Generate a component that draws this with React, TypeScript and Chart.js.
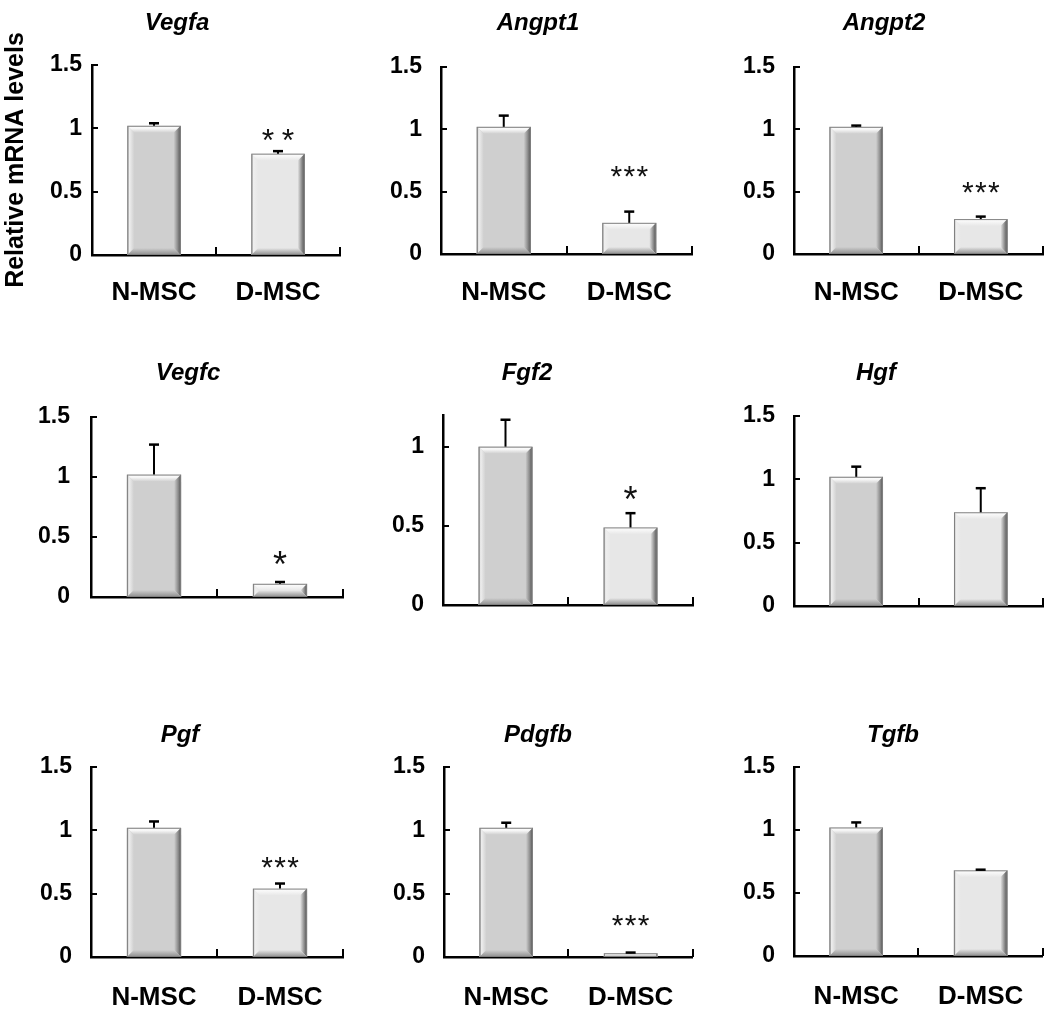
import React, { useEffect, useRef } from 'react';
import { Chart, registerables } from 'chart.js';
Chart.register(...registerables);

// ---- data ----
const genes = ['Vegfa', 'Angpt1', 'Angpt2', 'Vegfc', 'Fgf2', 'Hgf', 'Pgf', 'Pdgfb', 'Tgfb'];
const groups = ['N-MSC', 'D-MSC'];
const nMean = [1.02, 1.02, 1.02, 1.02, 1.0, 1.02, 1.02, 1.02, 1.02];
const nErr = [0.02, 0.09, 0.01, 0.25, 0.17, 0.08, 0.05, 0.04, 0.04];
const dMean = [0.8, 0.25, 0.28, 0.11, 0.49, 0.74, 0.54, 0.03, 0.68];
const dErr = [0.02, 0.09, 0.02, 0.015, 0.09, 0.19, 0.04, 0.005, 0.005];
const sigText = ['**', '***', '***', '*', '*', '', '***', '***', ''];
const sigLevel = [0.947, 0.658, 0.537, 0.325, 0.707, 0, 0.75, 0.292, 0];
const axisMax = [1.5, 1.5, 1.5, 1.5, 1.2, 1.5, 1.5, 1.5, 1.5];
const yTicks = [0, 0.5, 1, 1.5];
const yTitle = 'Relative mRNA levels';

// ---- layout (page pixels) ----
type Lay = { cell: number[]; plot: number[]; tickPad: number; titleX: number; titleY: number; labelPad: number; showX: boolean };
const layouts: Lay[] = [
  { cell: [0, 0, 350, 330], plot: [92, 65, 340, 255], tickPad: 10, titleX: 177, titleY: 23, labelPad: 22, showX: true },
  { cell: [350, 0, 350, 330], plot: [441, 67, 692, 254], tickPad: 19, titleX: 538, titleY: 23, labelPad: 23, showX: true },
  { cell: [700, 0, 350, 330], plot: [794, 67, 1043, 254], tickPad: 19, titleX: 884, titleY: 23, labelPad: 23, showX: true },
  { cell: [0, 330, 350, 330], plot: [91, 417, 343, 597], tickPad: 21, titleX: 188, titleY: 373, labelPad: 20, showX: false },
  { cell: [350, 330, 350, 330], plot: [443, 415, 693, 605], tickPad: 19, titleX: 527, titleY: 373, labelPad: 20, showX: false },
  { cell: [700, 330, 350, 330], plot: [794, 416, 1043, 606], tickPad: 19, titleX: 876, titleY: 373, labelPad: 20, showX: false },
  { cell: [0, 660, 350, 351], plot: [91, 767, 343, 957], tickPad: 19, titleX: 180, titleY: 735, labelPad: 25, showX: true },
  { cell: [350, 660, 350, 351], plot: [444, 767, 693, 957], tickPad: 19, titleX: 538, titleY: 735, labelPad: 25, showX: true },
  { cell: [700, 660, 350, 351], plot: [794, 767, 1043, 956], tickPad: 19, titleX: 893, titleY: 735, labelPad: 25, showX: true },
];

const FONT = '"Liberation Sans", Arial, Helvetica, sans-serif';
const faces = ['#cfcfcf', '#e7e7e7'];

function poly(ctx: CanvasRenderingContext2D, pts: number[][], fill: any) {
  ctx.beginPath();
  ctx.moveTo(pts[0][0], pts[0][1]);
  for (let k = 1; k < pts.length; k++) ctx.lineTo(pts[k][0], pts[k][1]);
  ctx.closePath();
  ctx.fillStyle = fill;
  ctx.fill();
}

function drawBevel(ctx: CanvasRenderingContext2D, x0: number, x1: number, y0: number, y1: number, face: string) {
  const w = x1 - x0;
  const h = y1 - y0;
  if (h <= 0) return;
  const b = Math.max(0.5, Math.min(7, w / 4, h / 2));
  ctx.save();
  ctx.fillStyle = face;
  ctx.fillRect(x0, y0, w, h);
  let g = ctx.createLinearGradient(0, y0, 0, y0 + b);
  g.addColorStop(0, '#ffffff');
  g.addColorStop(0.4, '#f6f6f6');
  g.addColorStop(1, face);
  poly(ctx, [[x0, y0], [x1, y0], [x1 - b, y0 + b], [x0 + b, y0 + b]], g);
  g = ctx.createLinearGradient(x0, 0, x0 + b, 0);
  g.addColorStop(0, '#a8a8a8');
  g.addColorStop(0.3, '#eeeeee');
  g.addColorStop(1, face);
  poly(ctx, [[x0, y0], [x0 + b, y0 + b], [x0 + b, y1 - b], [x0, y1]], g);
  g = ctx.createLinearGradient(x1 - b, 0, x1, 0);
  g.addColorStop(0, face);
  g.addColorStop(0.6, '#8a8a8a');
  g.addColorStop(1, '#4e4e4e');
  poly(ctx, [[x1, y0], [x1, y1], [x1 - b, y1 - b], [x1 - b, y0 + b]], g);
  g = ctx.createLinearGradient(0, y1 - b, 0, y1);
  g.addColorStop(0, face);
  g.addColorStop(1, '#8c8c8c');
  poly(ctx, [[x0, y1], [x0 + b, y1 - b], [x1 - b, y1 - b], [x1, y1]], g);
  ctx.strokeStyle = '#808080';
  ctx.lineWidth = 1;
  ctx.strokeRect(x0 + 0.5, y0 + 0.5, w - 1, h - 1);
  ctx.restore();
}

function makePlugin(i: number) {
  const L = layouts[i];
  const [cx, cy] = L.cell;
  return {
    id: 'panel' + i,
    afterDatasetsDraw(chart: any) {
      const ctx: CanvasRenderingContext2D = chart.ctx;
      const ys = chart.scales.y;
      const meta = chart.getDatasetMeta(0);
      meta.data.forEach((bar: any, j: number) => {
        const p = bar.getProps(['x', 'y', 'base', 'width'], true);
        drawBevel(ctx, p.x - p.width / 2, p.x + p.width / 2, p.y, p.base, faces[j]);
        const mean = j === 0 ? nMean[i] : dMean[i];
        const err = j === 0 ? nErr[i] : dErr[i];
        const yTop = ys.getPixelForValue(mean + err);
        ctx.save();
        ctx.strokeStyle = '#000';
        ctx.lineWidth = 2;
        ctx.beginPath();
        ctx.moveTo(p.x, p.y);
        ctx.lineTo(p.x, yTop);
        ctx.stroke();
        ctx.lineWidth = 2.5;
        ctx.beginPath();
        ctx.moveTo(p.x - 5, yTop);
        ctx.lineTo(p.x + 5, yTop);
        ctx.stroke();
        ctx.restore();
      });
    },
    afterDraw(chart: any) {
      const ctx: CanvasRenderingContext2D = chart.ctx;
      const xs = chart.scales.x;
      const ys = chart.scales.y;
      const area = chart.chartArea;
      ctx.save();
      ctx.strokeStyle = '#000';
      ctx.lineWidth = 2;
      // inward y ticks
      ys.ticks.forEach((t: any) => {
        const y = Math.round(ys.getPixelForValue(t.value));
        ctx.beginPath();
        ctx.moveTo(area.left, y);
        ctx.lineTo(area.left + 6, y);
        ctx.stroke();
      });
      // x boundary ticks
      [0.5, 1.5].forEach((v) => {
        const x = Math.round(xs.getPixelForValue(v));
        ctx.beginPath();
        ctx.moveTo(x, area.bottom);
        ctx.lineTo(x, area.bottom - 8);
        ctx.stroke();
      });
      // significance stars
      const s = sigText[i];
      if (s) {
        const meta = chart.getDatasetMeta(0);
        const bx = meta.data[1].getProps(['x'], true).x;
        const cyS = ys.getPixelForValue(sigLevel[i]);
        const n = s.length;
        const size = n === 1 ? 36 : n === 2 ? 32 : 30;
        const sp = n === 2 ? 20 : 13;
        ctx.fillStyle = '#111';
        ctx.font = `${size}px ${FONT}`;
        ctx.textAlign = 'center';
        ctx.textBaseline = 'alphabetic';
        const m = ctx.measureText('*');
        const base = cyS + (m.actualBoundingBoxAscent - m.actualBoundingBoxDescent) / 2;
        for (let k = 0; k < n; k++) {
          ctx.fillText('*', bx + (k - (n - 1) / 2) * sp, base);
        }
      }
      // panel title
      ctx.fillStyle = '#000';
      ctx.font = `italic bold 24px ${FONT}`;
      ctx.textAlign = 'center';
      ctx.textBaseline = 'middle';
      ctx.fillText(genes[i], L.titleX - cx, L.titleY - cy);
      ctx.restore();
    },
  };
}

function Panel({ i }: { i: number }) {
  const ref = useRef<HTMLCanvasElement>(null);
  const L = layouts[i];
  const [cx, cy, cw, ch] = L.cell;
  const [pl, pt, pr, pb] = L.plot;
  useEffect(() => {
    if (!ref.current) return;
    const max = axisMax[i];
    const chart = new Chart(ref.current, {
      type: 'bar',
      data: {
        labels: groups,
        datasets: [
          {
            data: [nMean[i], dMean[i]],
            backgroundColor: faces,
            borderWidth: 0,
            barPercentage: 0.43,
            categoryPercentage: 1,
          },
        ],
      },
      options: {
        animation: false,
        responsive: false,
        maintainAspectRatio: false,
        devicePixelRatio: 1,
        layout: { padding: { left: 0, top: pt - cy, right: cx + cw - pr, bottom: 0 } },
        plugins: { legend: { display: false }, tooltip: { enabled: false }, title: { display: false } },
        scales: {
          x: {
            type: 'category',
            offset: true,
            z: 1,
            grid: { display: false, drawTicks: false },
            border: { display: true, color: '#000', width: 2.5 },
            ticks: {
              display: L.showX,
              color: '#000',
              padding: L.labelPad,
              maxRotation: 0,
              autoSkip: false,
              font: { family: FONT, size: 26, weight: 'bold' },
            },
            afterFit: (s: any) => {
              s.height = cy + ch - pb;
            },
          },
          y: {
            min: 0,
            max,
            z: 1,
            grid: { display: false, drawTicks: false },
            border: { display: true, color: '#000', width: 2.5 },
            ticks: {
              color: '#000',
              padding: L.tickPad,
              includeBounds: false,
              font: { family: FONT, size: 23, weight: 'bold' },
              callback: (v: any) => String(+v),
            },
            afterBuildTicks: (s: any) => {
              s.ticks = yTicks.filter((v) => v <= max + 1e-9).map((value) => ({ value }));
            },
            afterFit: (s: any) => {
              s.width = pl - cx;
            },
            title:
              i === 0
                ? {
                    display: true,
                    text: yTitle,
                    color: '#000',
                    font: { family: FONT, size: 25, weight: 'bold' },
                    padding: { top: 1, bottom: 0 },
                  }
                : { display: false },
          },
        },
      } as any,
      plugins: [makePlugin(i)],
    });
    return () => chart.destroy();
  }, [i]);
  return (
    <canvas
      ref={ref}
      width={cw}
      height={ch}
      style={{ position: 'absolute', left: cx, top: cy, width: cw, height: ch }}
    />
  );
}

export default function App() {
  return (
    <div style={{ position: 'absolute', left: 0, top: 0, width: 1050, height: 1011, background: '#fff', overflow: 'hidden' }}>
      {genes.map((g, i) => (
        <Panel key={g} i={i} />
      ))}
    </div>
  );
}
